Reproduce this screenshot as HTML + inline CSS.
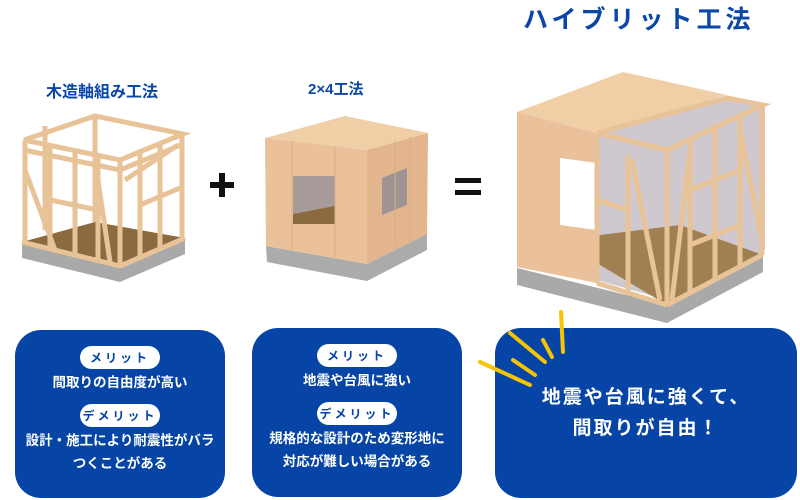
<!DOCTYPE html>
<html><head><meta charset="utf-8"><style>
body{margin:0;width:800px;height:500px;background:#fff;overflow:hidden;position:relative;font-family:"Liberation Sans","Noto Sans CJK JP",sans-serif;}
.t{position:absolute;color:#0a47a8;font-weight:bold;white-space:nowrap}
.box{position:absolute;background:#0645a6;border-radius:26px;color:#fff;text-align:center;font-weight:bold}
.pill{display:inline-block;background:#fff;color:#0645a6;border-radius:13px;font-size:12px;padding:3px 0;width:80px;letter-spacing:3px}
.l{font-size:13.5px;line-height:23px}
</style></head><body>
<div class="t" style="left:46px;top:78px;font-size:16px">木造軸組み工法</div>
<div class="t" style="left:308px;top:78px;font-size:15px">2×4工法</div>
<div class="t" style="left:523px;top:0px;font-size:25px;letter-spacing:4px">ハイブリット工法</div>
<svg width="800" height="500" style="position:absolute;left:0;top:0">
<polygon points="22,258 120,282 185,254 185,238 120,266 22,242" fill="#a9a9a9"/>
<polygon points="22,242 120,266 185,238 95,222" fill="#8a6a3e"/>
<g stroke="#e9c398" stroke-width="5" fill="none">
<polyline points="24,140 120,160 183,134 95,116 24,140"/>
<polyline points="24,150 120,170 183,144"/>
<line x1="25" y1="140" x2="25" y2="245"/><line x1="120" y1="160" x2="120" y2="268"/><line x1="182" y1="134" x2="182" y2="240"/>
<line x1="50" y1="146" x2="50" y2="250"/><line x1="75" y1="152" x2="75" y2="256"/><line x1="98" y1="156" x2="98" y2="262"/>
<line x1="140" y1="152" x2="140" y2="260"/><line x1="160" y1="144" x2="160" y2="250"/>
<line x1="25" y1="170" x2="55" y2="250"/><line x1="95" y1="160" x2="110" y2="262"/><line x1="125" y1="180" x2="178" y2="145"/>
<line x1="50" y1="200" x2="98" y2="210"/><line x1="140" y1="205" x2="180" y2="188"/><line x1="22" y1="242" x2="120" y2="266"/><line x1="120" y1="266" x2="185" y2="238"/>
<line x1="45" y1="126" x2="45" y2="230"/><line x1="95" y1="118" x2="95" y2="222"/>
</g>
<rect x="210" y="182" width="24" height="6" fill="#111"/><rect x="219" y="173" width="6" height="24" fill="#111"/>
<rect x="455" y="178" width="26" height="5" fill="#111"/><rect x="455" y="190" width="26" height="5" fill="#111"/>
<polygon points="266,246 367,264 427,234 427,250 367,281 267,262" fill="#ababab"/>
<polygon points="265,138 345,116 428,133 367,150" fill="#f0cfa6"/>
<polygon points="265,138 367,150 367,264 266,246" fill="#eac19a"/>
<polygon points="367,150 428,133 427,234 367,264" fill="#e2b58c"/>
<rect x="293" y="176" width="42" height="48" fill="#a89a98"/>
<polygon points="293,214 335,206 335,224 293,224" fill="#8a6a3e"/>
<polygon points="382,178 407,168 407,205 382,215" fill="#9f9393"/>
<g stroke="#d9ae86" stroke-width="1"><line x1="292" y1="141" x2="292" y2="250"/><line x1="335" y1="146" x2="335" y2="258"/><line x1="395" y1="141" x2="395" y2="250"/><line x1="410" y1="137" x2="410" y2="244"/></g>
<polygon points="517,268 667,305 763,255 763,272 667,323 517,285" fill="#a9a9a9"/>
<polygon points="597,135 727,98 765,106 765,250 667,300 597,280" fill="#cfc8cf"/>
<polygon points="575,250 667,305 763,255 680,225 600,235" fill="#a08050"/>
<polygon points="517,112 623,72 727,95 597,133" fill="#f0cfa6"/>
<polygon points="517,112 597,133 597,163 560,158 560,225 597,230 597,283 517,267" fill="#eac19a"/>
<g stroke="#e9c398" stroke-width="5" fill="none">
<polyline points="597,133 667,150 763,105 727,98 597,133"/>
<line x1="597" y1="133" x2="597" y2="283"/><line x1="667" y1="150" x2="667" y2="305"/><line x1="762" y1="106" x2="762" y2="255"/>
<line x1="628" y1="155" x2="628" y2="295"/><line x1="690" y1="140" x2="690" y2="292"/><line x1="715" y1="128" x2="715" y2="280"/><line x1="740" y1="118" x2="740" y2="268"/>
<line x1="632" y1="160" x2="660" y2="300"/><line x1="690" y1="150" x2="672" y2="300"/><line x1="740" y1="130" x2="762" y2="240"/>
<line x1="597" y1="200" x2="628" y2="210"/><line x1="690" y1="190" x2="740" y2="170"/><line x1="690" y1="245" x2="740" y2="225"/>
<line x1="597" y1="283" x2="667" y2="305"/><line x1="667" y1="305" x2="762" y2="255"/>
</g>
</svg>
<div class="box" style="left:15px;top:330px;width:210px;height:168px">
<div class="pill" style="margin-top:16px">メリット</div>
<div class="l" style="margin-top:2px">間取りの自由度が高い</div>
<div class="pill" style="margin-top:10px">デメリット</div>
<div class="l" style="margin-top:2px">設計・施工により耐震性がバラ<br>つくことがある</div>
</div>
<div class="box" style="left:252px;top:328px;width:210px;height:169px">
<div class="pill" style="margin-top:16px">メリット</div>
<div class="l" style="margin-top:2px">地震や台風に強い</div>
<div class="pill" style="margin-top:10px">デメリット</div>
<div class="l" style="margin-top:2px">規格的な設計のため変形地に<br>対応が難しい場合がある</div>
</div>
<div class="box" style="left:495px;top:328px;width:302px;height:170px;font-size:19px;line-height:31px;letter-spacing:2px">
<div style="margin-top:54px">地震や台風に強くて、<br>間取りが自由！</div>
</div>
<svg width="800" height="500" style="position:absolute;left:0;top:0"><g stroke="#f6c400" stroke-width="4" stroke-linecap="round">
<line x1="480" y1="362" x2="530" y2="385"/><line x1="513" y1="360" x2="535" y2="375"/><line x1="510" y1="333" x2="545" y2="362"/>
<line x1="543" y1="340" x2="552" y2="357"/><line x1="561" y1="312" x2="563" y2="352"/></g></svg>
</body></html>
